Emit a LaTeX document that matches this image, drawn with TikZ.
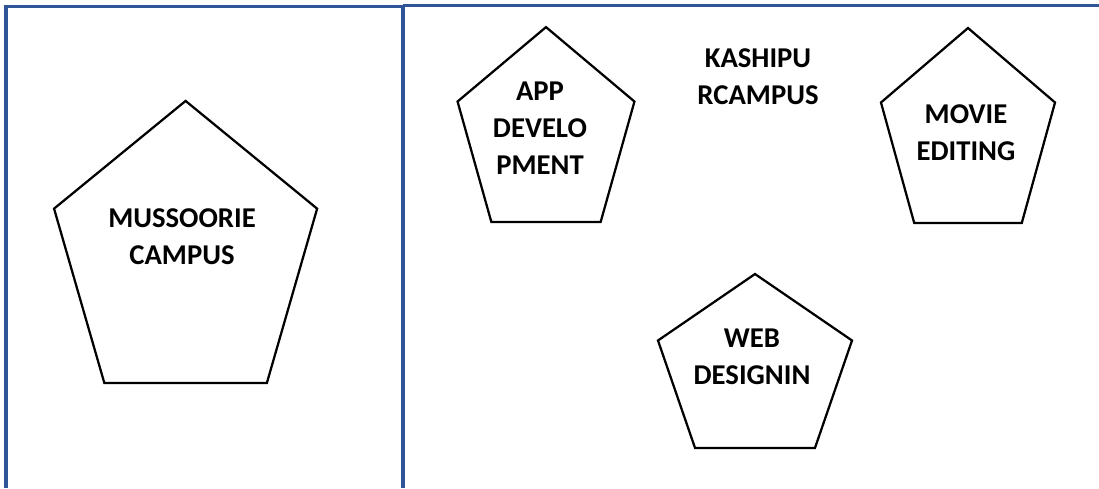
\documentclass[tikz,border=0pt]{standalone}
\usepackage{fontspec}
\setmainfont{Carlito}
\usepackage{tikz}
\usetikzlibrary{shapes.geometric}
\usepackage{xcolor}
\definecolor{frameblue}{HTML}{2F5597}

\begin{document}
\begin{tikzpicture}[
        pent/.style={regular polygon,regular polygon sides=5,draw,line width=1.6pt,inner sep=0pt},
        pentlabel/.style={align=center,inner sep=0pt,font=\fontsize{20.4}{26.3}\selectfont\bfseries},
        campusframe/.style={draw=frameblue,line width=2.2pt},
        ]
        \useasboundingbox (0,0) rectangle (27.475,-12.2);
        
        % Cadres des campus
        \draw[campusframe] (0.15,-12.2) |- (10.075,-0.155) -- (10.075,-12.2);
        \draw[campusframe, line width=2.6pt] (10.075,-0.14) -- (27.475,-0.14);
        
        % Pentagones
        \node[pent, shift={(4.64,-6.42)}, yscale=1.127, transform shape, minimum size=6.915cm] (mussoorie) at (0,0) {};
        \node[pent, shift={(13.65,-3.37)}, yscale=1.158, transform shape, minimum size=4.65cm] (appdev) at (0,0) {};
        \node[pent, shift={(24.2,-3.395)}, yscale=1.178, transform shape, minimum size=4.575cm] (movie) at (0,0) {};
        \node[pent, shift={(18.875,-9.255)}, yscale=0.943, transform shape, minimum size=5.1cm] (web) at (0,0) {};
        
        % Textes
        \node[pentlabel] (mussoorietext) at (4.55,-5.925) {MUSSOORIE\\CAMPUS};
        \node[pentlabel] (kashipur) at (18.95,-1.91) {KASHIPU\\RCAMPUS};
        \node[pentlabel] (appdevtext) at (13.5,-3.2) {APP\\DEVELO\\PMENT};
        \node[pentlabel] (movietext) at (24.15,-3.31) {MOVIE\\EDITING};
        \node[pentlabel] (webtext) at (18.8,-8.91) {WEB\\DESIGNIN};
    \end{tikzpicture}
\end{document}
